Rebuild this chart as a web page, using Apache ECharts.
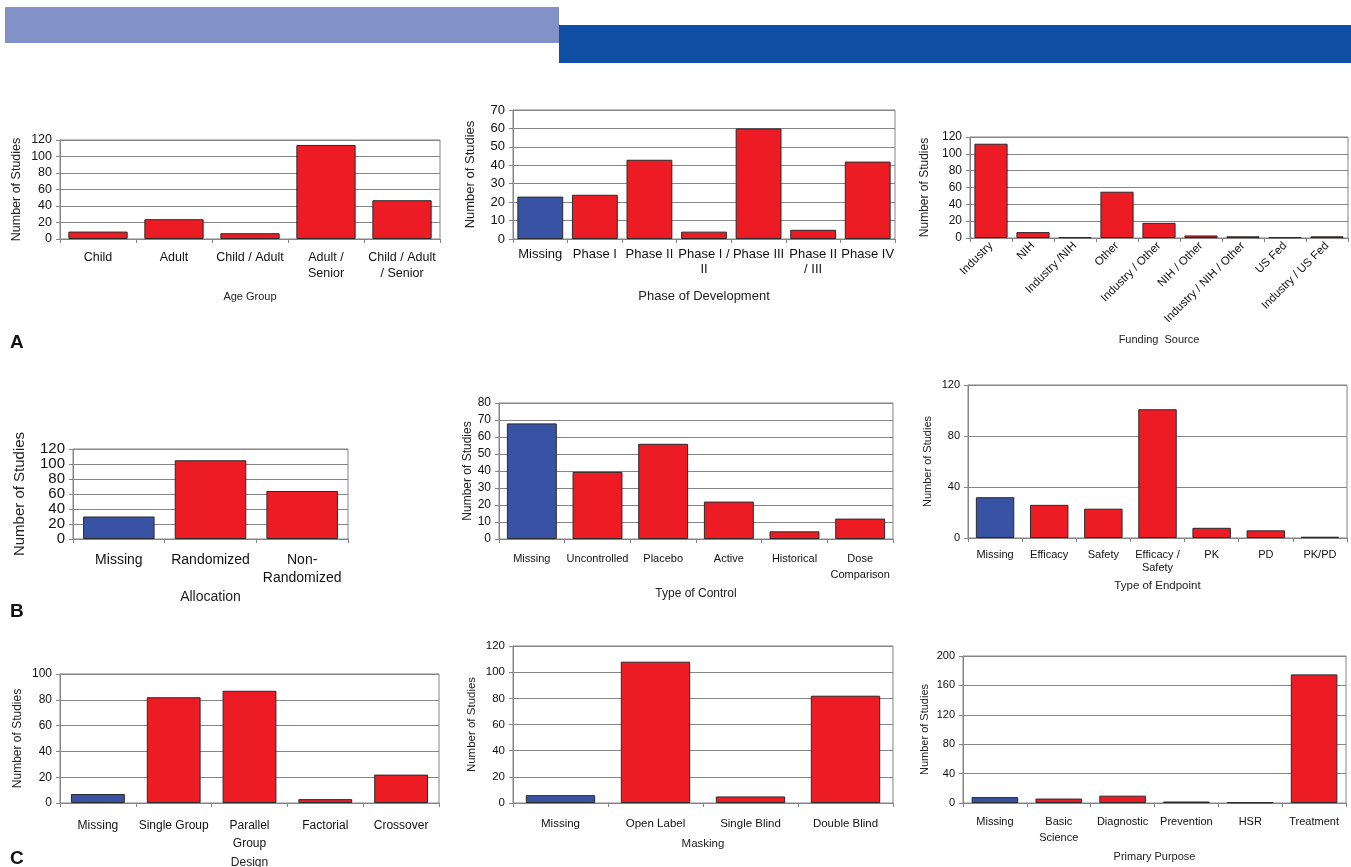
<!DOCTYPE html>
<html lang="en">
<head>
    <meta charset="UTF-8">
    <title>Study characteristics</title>
    <style>
        html, body { margin: 0; padding: 0; background: #fff; }
        #main { width: 1351px; height: 867px; }
    </style>
</head>
<body>
<div id="main"></div>
<script src="https://cdn.jsdelivr.net/npm/echarts@6/dist/echarts.min.js"></script>
<script>
    const myChart = echarts.init(document.getElementById('main'));

    // panel A
    const ageCats = ['Child', 'Adult', 'Child / Adult', 'Adult /\nSenior', 'Child / Adult\n/ Senior'];
    const ageVals = [9, 24, 7, 114, 47];

    const phaseCats = ['Missing', 'Phase I', 'Phase II', 'Phase I /\nII', 'Phase III', 'Phase II\n/ III', 'Phase IV'];
    const phaseVals = [23, 24, 43, 4, 60, 5, 42];

    const fundCats = ['Industry', 'NIH', 'Industry /NIH', 'Other', 'Industry / Other', 'NIH / Other',
        'Industry / NIH / Other', 'US Fed', 'Industry / US Fed'];
    const fundVals = [112, 7, 1, 55, 18, 3, 2, 1, 2];

    // panel B
    const allocCats = ['Missing', 'Randomized', 'Non-\nRandomized'];
    const allocVals = [30, 105, 64];

    const controlCats = ['Missing', 'Uncontrolled', 'Placebo', 'Active', 'Historical', 'Dose\nComparison'];
    const controlVals = [68, 39.5, 56, 22, 4.5, 12];

    const endpointCats = ['Missing', 'Efficacy', 'Safety', 'Efficacy /\nSafety', 'PK', 'PD', 'PK/PD'];
    const endpointVals = [32, 26, 23, 101, 8, 6, 1];

    // panel C
    const designCats = ['Missing', 'Single Group', 'Parallel\nGroup', 'Factorial', 'Crossover'];
    const designVals = [7, 82, 87, 3, 22];

    const maskCats = ['Missing', 'Open Label', 'Single Blind', 'Double Blind'];
    const maskVals = [6, 108, 5, 82];

    const purposeCats = ['Missing', 'Basic\nScience', 'Diagnostic', 'Prevention', 'HSR', 'Treatment'];
    const purposeVals = [8, 6, 10, 2, 1, 175];

    const RED = '#ed1c24';
    const BLUE = '#3853a4';
    const GRID_LINE = '#858585';
    const FONT = 'Liberation Sans, Arial, sans-serif';

    // one panel per entry: layout + the data arrays above
    const panels = [
        {cats: ageCats, vals: ageVals, name: 'Age Group', left: 60, top: 140, width: 380, height: 99,
            max: 120, step: 20, fs: 12.5, yfs: 12.5, nfs: 11, nameGap: 52, yGap: 37, margin: 11, lh: 16, gap: '22%'},
        {cats: phaseCats, vals: phaseVals, name: 'Phase of Development', left: 513, top: 110, width: 382, height: 129,
            max: 70, step: 10, fs: 13, yfs: 13, nfs: 13, nameGap: 51, yGap: 36, margin: 8, lh: 15, gap: '16%'},
        {cats: fundCats, vals: fundVals, name: 'Funding  Source', left: 970, top: 137, width: 378, height: 101,
            max: 120, step: 20, fs: 11.5, yfs: 12, nfs: 11, nameGap: 96, yGap: 39, margin: 6, lh: 13, rotate: 45, gap: '21%'},
        {cats: allocCats, vals: allocVals, name: 'Allocation', left: 73, top: 449, width: 275, height: 90,
            max: 120, step: 20, fs: 14, yfs: 15, nfs: 14, nameGap: 51, yGap: 46, margin: 12, lh: 18, gap: '22%'},
        {cats: controlCats, vals: controlVals, name: 'Type of Control', left: 499, top: 403, width: 394, height: 136,
            max: 80, step: 10, fs: 11, yfs: 12, nfs: 12, nameGap: 49, yGap: 18, margin: 12, lh: 16, gap: '24%'},
        {cats: endpointCats, vals: endpointVals, name: 'Type of Endpoint', left: 968, top: 385, width: 379, height: 153,
            max: 120, step: 40, fs: 11, yfs: 11, nfs: 11.5, nameGap: 42, yGap: 35, margin: 10, lh: 13, gap: '29%'},
        {cats: designCats, vals: designVals, name: 'Design', left: 60, top: 674, width: 379, height: 129,
            max: 100, step: 20, fs: 12, yfs: 12, nfs: 12, nameGap: 54, yGap: 36, margin: 14, lh: 18, gap: '29%'},
        {cats: maskCats, vals: maskVals, name: 'Masking', left: 513, top: 646, width: 380, height: 157,
            max: 120, step: 20, fs: 11.5, yfs: 11.5, nfs: 11.5, nameGap: 35, yGap: 35, margin: 13, lh: 15, gap: '27%'},
        {cats: purposeCats, vals: purposeVals, name: 'Primary Purpose', left: 963, top: 656, width: 383, height: 147,
            max: 200, step: 40, fs: 11, yfs: 11, nfs: 11, nameGap: 48, yGap: 33, margin: 11, lh: 16, gap: '27%'}
    ];

    const grid = [], xAxis = [], yAxis = [], series = [];

    panels.forEach(function (p, i) {
        grid.push({
            left: p.left, top: p.top, width: p.width, height: p.height,
            outerBoundsMode: 'none', containLabel: false,
            show: true, borderColor: GRID_LINE, borderWidth: 1, backgroundColor: 'transparent'
        });
        xAxis.push({
            type: 'category', gridIndex: i, data: p.cats,
            name: p.name, nameLocation: 'middle', nameGap: p.nameGap,
            nameTextStyle: {fontSize: p.nfs, color: '#222', fontFamily: FONT},
            axisLine: {lineStyle: {color: GRID_LINE}},
            axisTick: {show: true, length: 4, lineStyle: {color: GRID_LINE}},
            axisLabel: {
                interval: 0, fontSize: p.fs, color: '#111', margin: p.margin, lineHeight: p.lh,
                fontFamily: FONT, rotate: p.rotate || 0
            }
        });
        yAxis.push({
            type: 'value', gridIndex: i, min: 0, max: p.max, interval: p.step,
            name: 'Number of Studies', nameLocation: 'middle', nameRotate: 90, nameGap: p.yGap,
            nameTextStyle: {fontSize: p.yfs, color: '#222', fontFamily: FONT},
            axisLine: {show: true, lineStyle: {color: GRID_LINE}},
            axisTick: {show: true, length: 4, lineStyle: {color: GRID_LINE}},
            axisLabel: {fontSize: p.yfs, color: '#111', fontFamily: FONT},
            splitLine: {lineStyle: {color: GRID_LINE, width: 1}}
        });
        series.push({
            type: 'bar', xAxisIndex: i, yAxisIndex: i, barCategoryGap: p.gap,
            data: p.vals.map(function (v, k) {
                return {value: v, itemStyle: {color: p.cats[k] === 'Missing' ? BLUE : RED}};
            }),
            itemStyle: {borderColor: '#2a2a2a', borderWidth: 1},
            animation: false
        });
    });

    const option = {
        animation: false,
        grid, xAxis, yAxis, series,
        graphic: [
            {type: 'rect', shape: {x: 5, y: 7, width: 554, height: 36}, style: {fill: '#8391c9'}},
            {type: 'rect', shape: {x: 559, y: 25, width: 792, height: 38}, style: {fill: '#0e4fa4'}},
            {type: 'text', left: 10, top: 333, style: {text: 'A', font: 'bold 19px ' + FONT, fill: '#111'}},
            {type: 'text', left: 10, top: 602, style: {text: 'B', font: 'bold 19px ' + FONT, fill: '#111'}},
            {type: 'text', left: 10, top: 849, style: {text: 'C', font: 'bold 19px ' + FONT, fill: '#111'}}
        ]
    };

    myChart.setOption(option);
</script>
</body>
</html>
